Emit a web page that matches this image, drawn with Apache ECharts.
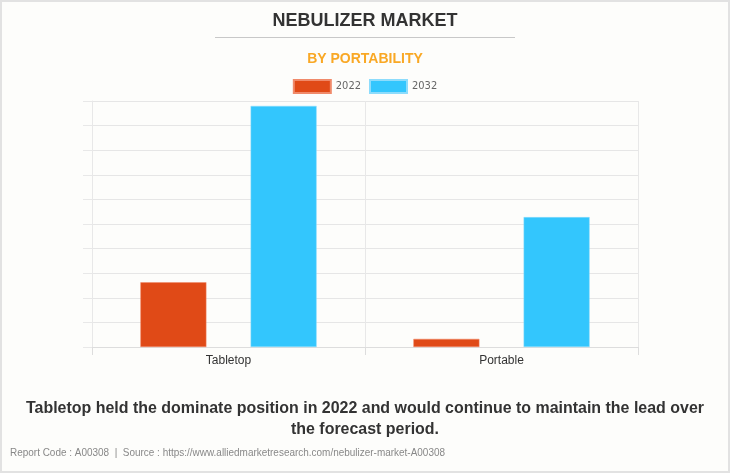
<!DOCTYPE html>
<html><head><meta charset="utf-8">
<script src="https://cdn.jsdelivr.net/npm/echarts@6/dist/echarts.min.js"></script>
<style>html,body{margin:0;padding:0;background:#fdfdfb;}#c{width:730px;height:473px;}</style>
</head><body><div id="c"></div>
<script>
const categories = ['Tabletop', 'Portable'];
const seriesNames = ['2022', '2032'];
const values2022 = [263, 33];
const values2032 = [980, 528];
const titleText = 'NEBULIZER MARKET';
const subtitleText = 'BY PORTABILITY';
const noteLine1 = 'Tabletop held the dominate position in 2022 and would continue to maintain the lead over';
const noteLine2 = 'the forecast period.';
const footerText = 'Report Code : A00308  |  Source : https://www.alliedmarketresearch.com/nebulizer-market-A00308';

function measure(text, font) {
  const cv = document.createElement('canvas').getContext('2d');
  cv.font = font;
  return cv.measureText(text).width;
}
const noteFont = 'bold 17px "Liberation Sans"';
const footFont = '11px "Liberation Sans"';
const noteScale = 678 / measure(noteLine1, noteFont);
const footScale = 435 / measure(footerText, footFont);

const chart = echarts.init(document.getElementById('c'), null, {renderer: 'canvas'});
chart.setOption({
  backgroundColor: '#fdfdfb',
  animation: false,
  title: [
    {text: titleText, left: 'center', top: 7, textStyle: {fontFamily: 'Liberation Sans', fontWeight: 'bold', fontSize: 18, color: '#333'}},
    {text: subtitleText, left: 'center', top: 47, textStyle: {fontFamily: 'Liberation Sans', fontWeight: 'bold', fontSize: 14, color: '#f9a825'}}
  ],
  legend: {
    top: 74, left: 'center', itemWidth: 37, itemHeight: 13, itemGap: 8, icon: 'rect',
    textStyle: {fontFamily: 'DejaVu Sans Condensed', fontSize: 11, color: '#666'},
    data: seriesNames
  },
  grid: {left: 92, right: 92, top: 101, bottom: 126},
  xAxis: {
    type: 'category', data: categories,
    axisLine: {lineStyle: {color: '#ddd'}},
    axisTick: {show: true, length: 8, lineStyle: {color: '#ddd'}},
    splitLine: {show: true, lineStyle: {color: '#e8e8e8'}},
    axisLabel: {fontFamily: 'Liberation Sans', fontSize: 12, color: '#333', margin: 8}
  },
  yAxis: {
    type: 'value', min: 0, max: 1000, interval: 100,
    axisLine: {show: true, lineStyle: {color: '#e8e8e8'}},
    axisTick: {show: true, length: 9, lineStyle: {color: '#e8e8e8'}},
    axisLabel: {show: false},
    splitLine: {lineStyle: {color: '#e6e6e6'}}
  },
  series: [
    {name: seriesNames[0], type: 'bar', data: values2022, barWidth: 66, barGap: '67%',
     itemStyle: {color: '#e04a17', borderColor: '#f08a6a', borderWidth: 0.5}},
    {name: seriesNames[1], type: 'bar', data: values2032, barWidth: 66,
     itemStyle: {color: '#33c6fd', borderColor: '#8ddcfc', borderWidth: 0.5}}
  ],
  graphic: [
    {type: 'rect', shape: {x: 1, y: 1, width: 728, height: 471}, style: {fill: 'none', stroke: '#e2e2e2', lineWidth: 2}, silent: true},
    {type: 'line', shape: {x1: 215, y1: 37.5, x2: 515, y2: 37.5}, style: {stroke: '#c8c8c8', lineWidth: 1}},
    {type: 'text', x: 365, y: 398, scaleX: noteScale, style: {text: noteLine1 + '\n' + noteLine2, font: noteFont, fill: '#333', align: 'center', textAlign: 'center', lineHeight: 21}},
    {type: 'text', x: 10, y: 447, scaleX: footScale, style: {text: footerText, font: footFont, fill: '#888'}}
  ]
});
</script></body></html>
